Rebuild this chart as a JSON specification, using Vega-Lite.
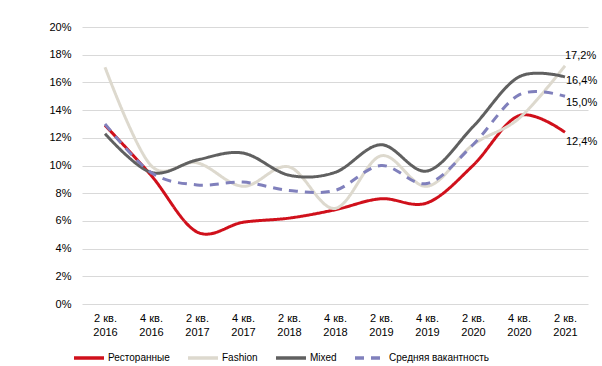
{
  "$schema": "https://vega.github.io/schema/vega-lite/v6.json",
  "autosize": "none",
  "width": 506,
  "height": 277,
  "padding": {"left": 82, "top": 27, "right": 14, "bottom": 62},
  "background": "white",
  "config": {
    "view": {"stroke": null},
    "font": "Liberation Sans",
    "locale": {"number": {"decimal": ",", "thousands": " ", "grouping": [3], "currency": ["", ""]}}
  },
  "data": {
    "values": [
      {"q": "2 кв. 2016", "series": "Ресторанные", "v": 0.129},
      {"q": "4 кв. 2016", "series": "Ресторанные", "v": 0.093},
      {"q": "2 кв. 2017", "series": "Ресторанные", "v": 0.052},
      {"q": "4 кв. 2017", "series": "Ресторанные", "v": 0.059},
      {"q": "2 кв. 2018", "series": "Ресторанные", "v": 0.062},
      {"q": "4 кв. 2018", "series": "Ресторанные", "v": 0.068},
      {"q": "2 кв. 2019", "series": "Ресторанные", "v": 0.076},
      {"q": "4 кв. 2019", "series": "Ресторанные", "v": 0.073},
      {"q": "2 кв. 2020", "series": "Ресторанные", "v": 0.100},
      {"q": "4 кв. 2020", "series": "Ресторанные", "v": 0.136},
      {"q": "2 кв. 2021", "series": "Ресторанные", "v": 0.124},
      {"q": "2 кв. 2016", "series": "Fashion", "v": 0.171},
      {"q": "4 кв. 2016", "series": "Fashion", "v": 0.100},
      {"q": "2 кв. 2017", "series": "Fashion", "v": 0.102},
      {"q": "4 кв. 2017", "series": "Fashion", "v": 0.085},
      {"q": "2 кв. 2018", "series": "Fashion", "v": 0.099},
      {"q": "4 кв. 2018", "series": "Fashion", "v": 0.069},
      {"q": "2 кв. 2019", "series": "Fashion", "v": 0.107},
      {"q": "4 кв. 2019", "series": "Fashion", "v": 0.085},
      {"q": "2 кв. 2020", "series": "Fashion", "v": 0.115},
      {"q": "4 кв. 2020", "series": "Fashion", "v": 0.134},
      {"q": "2 кв. 2021", "series": "Fashion", "v": 0.172},
      {"q": "2 кв. 2016", "series": "Mixed", "v": 0.123},
      {"q": "4 кв. 2016", "series": "Mixed", "v": 0.095},
      {"q": "2 кв. 2017", "series": "Mixed", "v": 0.104},
      {"q": "4 кв. 2017", "series": "Mixed", "v": 0.109},
      {"q": "2 кв. 2018", "series": "Mixed", "v": 0.093},
      {"q": "4 кв. 2018", "series": "Mixed", "v": 0.095},
      {"q": "2 кв. 2019", "series": "Mixed", "v": 0.115},
      {"q": "4 кв. 2019", "series": "Mixed", "v": 0.096},
      {"q": "2 кв. 2020", "series": "Mixed", "v": 0.128},
      {"q": "4 кв. 2020", "series": "Mixed", "v": 0.164},
      {"q": "2 кв. 2021", "series": "Mixed", "v": 0.164},
      {"q": "2 кв. 2016", "series": "Средняя вакантность", "v": 0.130},
      {"q": "4 кв. 2016", "series": "Средняя вакантность", "v": 0.095},
      {"q": "2 кв. 2017", "series": "Средняя вакантность", "v": 0.086},
      {"q": "4 кв. 2017", "series": "Средняя вакантность", "v": 0.088},
      {"q": "2 кв. 2018", "series": "Средняя вакантность", "v": 0.082},
      {"q": "4 кв. 2018", "series": "Средняя вакантность", "v": 0.082},
      {"q": "2 кв. 2019", "series": "Средняя вакантность", "v": 0.100},
      {"q": "4 кв. 2019", "series": "Средняя вакантность", "v": 0.087},
      {"q": "2 кв. 2020", "series": "Средняя вакантность", "v": 0.115},
      {"q": "4 кв. 2020", "series": "Средняя вакантность", "v": 0.151},
      {"q": "2 кв. 2021", "series": "Средняя вакантность", "v": 0.150}
    ]
  },
  "encoding": {
    "x": {
      "field": "q", "type": "ordinal", "sort": null,
      "scale": {"type": "point", "padding": 0.5},
      "axis": {
        "title": null, "labelAngle": 0, "domain": false, "ticks": false,
        "labelFontSize": 11, "labelColor": "#000000", "labelPadding": 8,
        "labelLineHeight": 14, "labelBaseline": "top",
        "labelExpr": "[slice(datum.label, 0, 5), slice(datum.label, 6)]"
      }
    },
    "y": {
      "field": "v", "type": "quantitative",
      "scale": {"domain": [0, 0.2], "nice": false},
      "axis": {
        "title": null, "format": ".0%", "values": [0, 0.02, 0.04, 0.06, 0.08, 0.1, 0.12, 0.14, 0.16, 0.18, 0.2],
        "domain": false, "ticks": false, "gridColor": "#D9D9D9", "gridWidth": 1,
        "labelFontSize": 11, "labelColor": "#000000", "labelPadding": 11
      }
    }
  },
  "layer": [
    {
      "mark": {"type": "line", "interpolate": "cardinal", "tension": 0, "strokeWidth": 3},
      "encoding": {
        "color": {
          "field": "series", "type": "nominal",
          "scale": {
            "domain": ["Ресторанные", "Fashion", "Mixed", "Средняя вакантность"],
            "range": ["#D0101B", "#DDD9CE", "#606060", "#8080BC"]
          },
          "legend": {
            "title": null, "orient": "none", "direction": "horizontal",
            "legendX": -10, "legendY": 314,
            "symbolType": "stroke", "symbolSize": 900, "symbolStrokeWidth": 3.5,
            "labelFontSize": 10, "labelColor": "#000000", "labelOffset": 2,
            "columnPadding": 11
          }
        },
        "strokeDash": {
          "field": "series", "type": "nominal",
          "scale": {
            "domain": ["Ресторанные", "Fashion", "Mixed", "Средняя вакантность"],
            "range": [[1, 0], [1, 0], [1, 0], [9, 7]]
          },
          "legend": {
            "title": null, "orient": "none", "direction": "horizontal",
            "legendX": -10, "legendY": 314,
            "symbolType": "stroke", "symbolSize": 900, "symbolStrokeWidth": 3.5,
            "labelFontSize": 10, "labelColor": "#000000", "labelOffset": 2,
            "columnPadding": 11
          }
        }
      }
    },
    {
      "transform": [{"filter": "datum.q === '2 кв. 2021' && datum.series === 'Fashion'"}],
      "mark": {"type": "text", "align": "left", "baseline": "middle", "dx": 0, "dy": -10, "fontSize": 11, "color": "#000000"},
      "encoding": {"text": {"field": "v", "type": "quantitative", "format": ".1%"}}
    },
    {
      "transform": [{"filter": "datum.q === '2 кв. 2021' && datum.series === 'Mixed'"}],
      "mark": {"type": "text", "align": "left", "baseline": "middle", "dx": 1, "dy": 4, "fontSize": 11, "color": "#000000"},
      "encoding": {"text": {"field": "v", "type": "quantitative", "format": ".1%"}}
    },
    {
      "transform": [{"filter": "datum.q === '2 кв. 2021' && datum.series === 'Средняя вакантность'"}],
      "mark": {"type": "text", "align": "left", "baseline": "middle", "dx": 1, "dy": 7, "fontSize": 11, "color": "#000000"},
      "encoding": {"text": {"field": "v", "type": "quantitative", "format": ".1%"}}
    },
    {
      "transform": [{"filter": "datum.q === '2 кв. 2021' && datum.series === 'Ресторанные'"}],
      "mark": {"type": "text", "align": "left", "baseline": "middle", "dx": 1, "dy": 10, "fontSize": 11, "color": "#000000"},
      "encoding": {"text": {"field": "v", "type": "quantitative", "format": ".1%"}}
    }
  ]
}
